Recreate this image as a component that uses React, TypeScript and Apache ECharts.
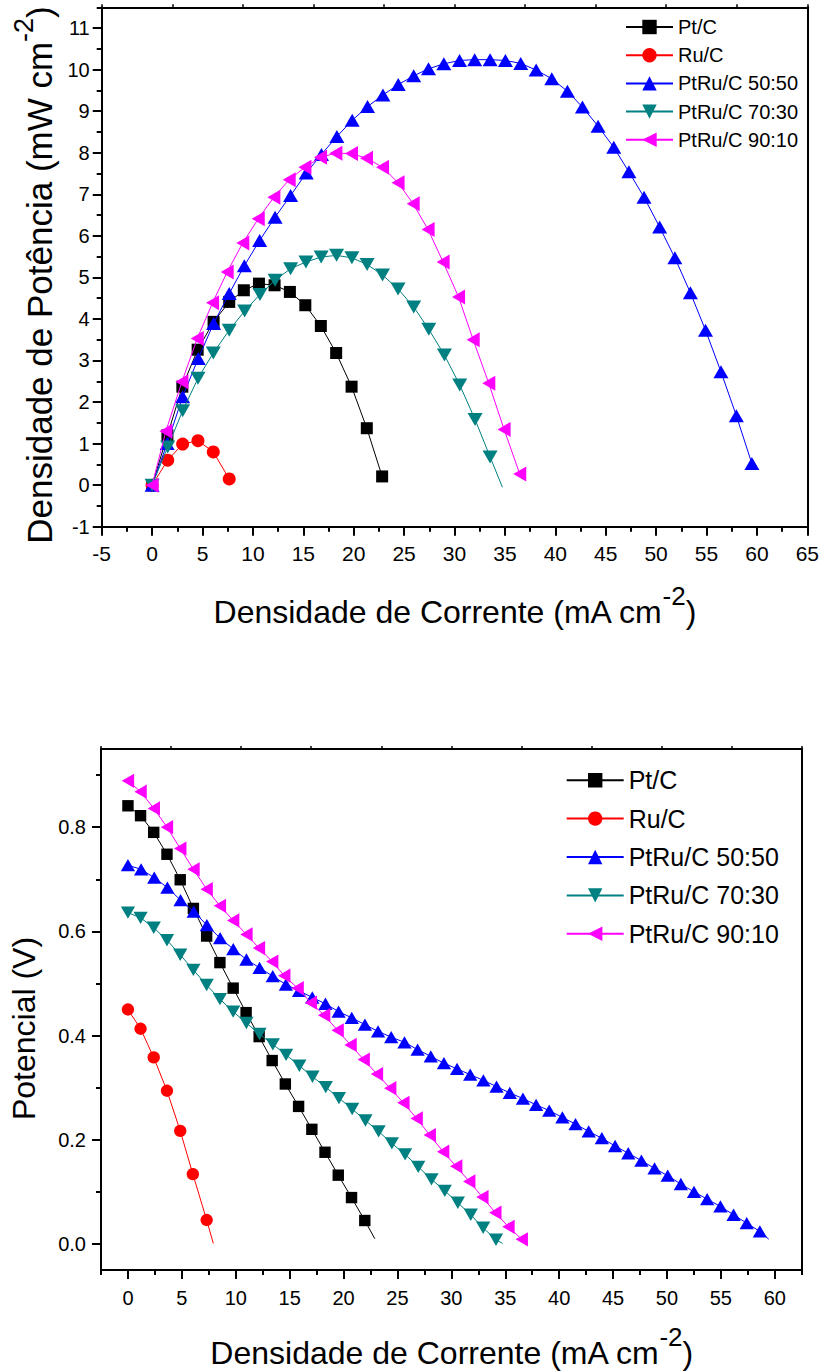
import React, { useEffect, useRef } from 'react';
import * as echarts from 'echarts';

const FONT = 'Arial, Liberation Sans, Helvetica, sans-serif';

const seriesNames = ['Pt/C', 'Ru/C', 'PtRu/C 50:50', 'PtRu/C 70:30', 'PtRu/C 90:10'];
const seriesColors = ['#000000', '#FF0000', '#0000FF', '#008080', '#FF00FF'];

// ---------- Top chart: power density vs current density ----------
const ptcPowJ = [0, 1.52, 3.0, 4.52, 6.1, 7.65, 9.1, 10.6, 12.15, 13.67, 15.2, 16.74, 18.26, 19.79, 21.3, 22.82];
const ptcPowP = [0, 1.2, 2.37, 3.26, 3.93, 4.41, 4.69, 4.85, 4.81, 4.65, 4.33, 3.83, 3.18, 2.37, 1.37, 0.21];

const rucPowJ = [0, 1.55, 3.03, 4.55, 6.07, 7.65];
const rucPowP = [0, 0.6, 0.99, 1.07, 0.8, 0.15];

const pr5050PowJ = [0, 1.49, 3.03, 4.58, 6.1, 7.65, 9.15, 10.67, 12.2, 13.74, 15.29, 16.8, 18.33, 19.85, 21.37, 22.9, 24.42, 25.95, 27.42, 28.94, 30.5, 32.0, 33.53, 35.05, 36.57, 38.1, 39.65, 41.2, 42.69, 44.24, 45.8, 47.3, 48.8, 50.35, 51.86, 53.4, 54.9, 56.43, 57.96, 59.5];
const pr5050PowP = [0, 1.0, 2.13, 3.05, 3.89, 4.61, 5.28, 5.89, 6.45, 6.97, 7.51, 7.96, 8.39, 8.78, 9.11, 9.39, 9.64, 9.85, 10.02, 10.14, 10.22, 10.24, 10.24, 10.22, 10.15, 9.99, 9.78, 9.48, 9.1, 8.64, 8.13, 7.54, 6.93, 6.21, 5.47, 4.63, 3.73, 2.73, 1.67, 0.52];

const pr7030PowJ = [0, 1.55, 3.03, 4.55, 6.07, 7.65, 9.18, 10.7, 12.2, 13.74, 15.26, 16.77, 18.3, 19.82, 21.33, 22.86, 24.4, 25.95, 27.45, 29.0, 30.52, 32.04, 33.53];
const pr7030PowP = [0, 0.92, 1.79, 2.57, 3.18, 3.73, 4.19, 4.59, 4.93, 5.21, 5.37, 5.49, 5.53, 5.47, 5.31, 5.06, 4.72, 4.29, 3.75, 3.13, 2.41, 1.58, 0.68];
const pr7030PowTail = [34.75, -0.05];

const pr9010PowJ = [0, 1.37, 2.96, 4.48, 6.0, 7.45, 9.0, 10.53, 12.08, 13.6, 15.16, 16.71, 18.23, 19.78, 21.27, 22.86, 24.4, 25.9, 27.38, 28.87, 30.4, 31.85, 33.4, 34.92, 36.47];
const pr9010PowP = [0, 1.3, 2.49, 3.53, 4.39, 5.13, 5.83, 6.41, 6.93, 7.35, 7.65, 7.89, 7.99, 7.98, 7.87, 7.65, 7.28, 6.77, 6.15, 5.37, 4.53, 3.5, 2.45, 1.34, 0.27];

// ---------- Bottom chart: potential vs current density ----------
const ptcPolJ = [0, 1.17, 2.39, 3.62, 4.85, 6.07, 7.3, 8.53, 9.76, 10.96, 12.17, 13.38, 14.6, 15.83, 17.06, 18.28, 19.51, 20.74, 21.97];
const ptcPolV = [0.841, 0.822, 0.79, 0.748, 0.699, 0.644, 0.591, 0.54, 0.491, 0.444, 0.398, 0.352, 0.307, 0.264, 0.22, 0.176, 0.132, 0.089, 0.045];
const ptcPolTail = [22.9, 0.01];

const rucPolJ = [0, 1.17, 2.39, 3.62, 4.85, 6.02, 7.3];
const rucPolV = [0.45, 0.413, 0.358, 0.294, 0.217, 0.134, 0.046];
const rucPolTail = [7.92, 0.001];

const pr5050PolJ = [0, 1.22, 2.44, 3.66, 4.88, 6.1, 7.32, 8.55, 9.77, 10.99, 12.21, 13.43, 14.65, 15.87, 17.1, 18.32, 19.54, 20.76, 21.98, 23.2, 24.42, 25.65, 26.87, 28.09, 29.31, 30.53, 31.75, 32.97, 34.19, 35.42, 36.64, 37.86, 39.08, 40.3, 41.52, 42.74, 43.96, 45.19, 46.41, 47.63, 48.85, 50.07, 51.29, 52.51, 53.73, 54.96, 56.18, 57.4, 58.62];
const pr5050PolV = [0.727, 0.719, 0.703, 0.684, 0.66, 0.638, 0.612, 0.587, 0.566, 0.546, 0.53, 0.514, 0.498, 0.486, 0.473, 0.461, 0.446, 0.434, 0.421, 0.408, 0.397, 0.387, 0.373, 0.36, 0.347, 0.336, 0.325, 0.314, 0.302, 0.29, 0.279, 0.267, 0.256, 0.243, 0.23, 0.216, 0.203, 0.188, 0.174, 0.16, 0.145, 0.131, 0.115, 0.1, 0.086, 0.072, 0.056, 0.04, 0.024];
const pr5050PolTail = [59.45, 0.009];

const pr7030PolJ = [0, 1.17, 2.39, 3.62, 4.85, 6.07, 7.3, 8.53, 9.76, 10.99, 12.2, 13.44, 14.67, 15.9, 17.12, 18.35, 19.57, 20.8, 22.03, 23.25, 24.48, 25.71, 26.93, 28.16, 29.39, 30.6, 31.8, 32.95, 34.14];
const pr7030PolV = [0.636, 0.626, 0.607, 0.583, 0.555, 0.526, 0.497, 0.47, 0.446, 0.424, 0.403, 0.383, 0.363, 0.342, 0.321, 0.301, 0.28, 0.259, 0.237, 0.216, 0.193, 0.172, 0.148, 0.124, 0.102, 0.079, 0.056, 0.031, 0.008];
const pr7030PolTail = [34.76, 0.001];

const pr9010PolJ = [0, 1.17, 2.4, 3.62, 4.85, 6.08, 7.3, 8.53, 9.76, 10.99, 12.15, 13.38, 14.5, 15.74, 16.97, 18.2, 19.45, 20.65, 21.87, 23.1, 24.33, 25.55, 26.78, 28.0, 29.24, 30.45, 31.66, 32.88, 34.08, 35.3, 36.53];
const pr9010PolV = [0.889, 0.868, 0.836, 0.8, 0.759, 0.719, 0.681, 0.649, 0.621, 0.594, 0.568, 0.542, 0.515, 0.491, 0.463, 0.439, 0.41, 0.382, 0.354, 0.326, 0.299, 0.271, 0.241, 0.209, 0.177, 0.149, 0.12, 0.09, 0.06, 0.033, 0.009];

// ---------- Tick labels ----------
const powXTicks = [-5, 0, 5, 10, 15, 20, 25, 30, 35, 40, 45, 50, 55, 60, 65];
const powYTicks = [-1, 0, 1, 2, 3, 4, 5, 6, 7, 8, 9, 10, 11];
const polXTicks = [0, 5, 10, 15, 20, 25, 30, 35, 40, 45, 50, 55, 60];
const polYTicks = [0, 0.2, 0.4, 0.6, 0.8];
const powTopTicks = [-5, 2, 9, 16, 23, 30, 37, 44, 51, 58, 65];
const polTopTicks = [-2.5, 4, 10.5, 17, 23.5, 30, 36.5, 43, 49.5, 56, 62.5];

const TRI_DOWN = 'path://M0,0L10,0L5,10Z';
const TRI_LEFT = 'path://M0,5L10,0L10,10Z';
const symbols = ['rect', 'circle', 'triangle', TRI_DOWN, TRI_LEFT];
const symbolSizes: any[] = [12, 13, [15, 13], [15, 13], [13, 15]];

function pairs(xs: number[], ys: number[], tail?: number[]) {
  const out: any[] = xs.map((x, i) => [x, ys[i]]);
  if (tail) out.push({ value: tail, symbol: 'none' });
  return out;
}

function minorBetween(ticks: number[], lo: number, hi: number, step: number) {
  const out: number[] = [];
  const n = Math.round((hi - lo) / step);
  for (let i = 0; i <= n; i++) {
    const v = +(lo + i * step).toFixed(4);
    if (!ticks.some((t) => Math.abs(t - v) < 1e-6)) out.push(v);
  }
  return out;
}

const black = '#000000';
const axisLine = { show: true, onZero: false, lineStyle: { color: black, width: 2 } };

function mainAxis(gridIndex: number, position: string, min: number, max: number, ticks: number[], labelMargin: number, labelSize: number, fmt?: (v: number) => string, name?: string, nameGap?: number, nameStyle?: any) {
  return {
    type: 'value', gridIndex, position, min, max,
    axisLine,
    axisTick: { show: true, inside: false, length: 9, customValues: ticks, lineStyle: { color: black, width: 2 } },
    axisLabel: { show: true, customValues: ticks, margin: labelMargin, fontSize: labelSize, color: black, fontFamily: FONT, formatter: fmt },
    splitLine: { show: false },
    minorTick: { show: false },
    name, nameLocation: 'middle', nameGap, nameTextStyle: nameStyle,
  };
}
function minorAxis(gridIndex: number, position: string, min: number, max: number, values: number[]) {
  return {
    type: 'value', gridIndex, position, min, max,
    axisLine: { show: false, onZero: false },
    axisTick: { show: true, inside: false, length: 5, customValues: values, lineStyle: { color: black, width: 2 } },
    axisLabel: { show: false },
    splitLine: { show: false },
  };
}
function frameAxis(gridIndex: number, position: string, min: number, max: number, values?: number[]) {
  return {
    type: 'value', gridIndex, position, min, max,
    axisLine,
    axisTick: values ? { show: true, inside: false, length: 3, customValues: values, lineStyle: { color: black, width: 1.5 } } : { show: false },
    axisLabel: { show: false },
    splitLine: { show: false },
  };
}

function titleStyle(mainSize: number, supSize: number, pad?: number[]) {
  return {
    padding: pad,
    rich: {
      m: { fontSize: mainSize, fontFamily: FONT, color: black, verticalAlign: 'bottom' },
      s: { fontSize: supSize, fontFamily: FONT, color: black, verticalAlign: 'top', padding: [0, 0, 19, 0] },
    },
  };
}

function buildOption() {
  const powSeries = [
    pairs(ptcPowJ, ptcPowP),
    pairs(rucPowJ, rucPowP),
    pairs(pr5050PowJ, pr5050PowP),
    pairs(pr7030PowJ, pr7030PowP, pr7030PowTail),
    pairs(pr9010PowJ, pr9010PowP),
  ];
  const polSeries = [
    pairs(ptcPolJ, ptcPolV, ptcPolTail),
    pairs(rucPolJ, rucPolV, rucPolTail),
    pairs(pr5050PolJ, pr5050PolV, pr5050PolTail),
    pairs(pr7030PolJ, pr7030PolV, pr7030PolTail),
    pairs(pr9010PolJ, pr9010PolV),
  ];
  const mk = (data: any[], i: number, xi: number, yi: number, sizeScale: number) => ({
    type: 'line', name: seriesNames[i], xAxisIndex: xi, yAxisIndex: yi, data,
    symbol: symbols[i],
    symbolSize: Array.isArray(symbolSizes[i]) ? symbolSizes[i].map((v: number) => v * sizeScale) : symbolSizes[i] * sizeScale,
    showSymbol: true, showAllSymbol: true,
    lineStyle: { color: seriesColors[i], width: 1 },
    itemStyle: { color: seriesColors[i] },
    emphasis: { disabled: true },
    z: 2 + i,
  });

  const legendBase = {
    orient: 'vertical', padding: 0, selectedMode: false, data: seriesNames,
  };

  return {
    animation: false,
    backgroundColor: '#ffffff',
    grid: [
      { left: 101.7, top: 7.3, width: 706, height: 519.4, containLabel: false },
      { left: 95, top: 749, width: 706.7, height: 521, containLabel: false },
    ],
    legend: [
      { ...legendBase, left: 625, top: 17, itemWidth: 47, itemHeight: 18, itemGap: 8.2,
        textStyle: { fontSize: 20, lineHeight: 18, color: black, fontFamily: FONT } },
      { ...legendBase, left: 565.7, top: 767.7, itemWidth: 57, itemHeight: 18, itemGap: 13.4,
        textStyle: { fontSize: 25, lineHeight: 18, color: black, fontFamily: FONT } },
    ],
    xAxis: [
      mainAxis(0, 'bottom', -5, 65, powXTicks, 16.5, 21, undefined,
        '{m|Densidade de Corrente (mA cm}{s|-2}{m|)}', 56, titleStyle(32, 26)),
      minorAxis(0, 'bottom', -5, 65, minorBetween(powXTicks, -5, 65, 2.5)),
      frameAxis(0, 'top', -5, 65, powTopTicks),
      mainAxis(1, 'bottom', -2.5, 62.5, polXTicks, 17.5, 20, undefined,
        '{m|Densidade de Corrente (mA cm}{s|-2}{m|)}', 54, titleStyle(32, 26)),
      minorAxis(1, 'bottom', -2.5, 62.5, minorBetween(polXTicks, -2.5, 62.5, 2.5)),
      frameAxis(1, 'top', -2.5, 62.5, polTopTicks),
    ],
    yAxis: [
      mainAxis(0, 'left', -1, 11.5, powYTicks, 12, 20, undefined,
        '{m|Densidade de Potência (mW cm}{s|-2}{m|)}', 45, titleStyle(35, 27, [0, 16, 0, 0])),
      minorAxis(0, 'left', -1, 11.5, minorBetween(powYTicks, -1, 11.5, 0.5)),
      frameAxis(0, 'right', -1, 11.5),
      mainAxis(1, 'left', -0.05, 0.95, polYTicks, 15, 20, (v: number) => v.toFixed(1),
        'Potencial (V)', 61, { fontSize: 32, fontFamily: FONT, color: black, padding: [0, 38, 0, 0] }),
      minorAxis(1, 'left', -0.05, 0.95, minorBetween(polYTicks, -0.1, 1.0, 0.1).filter((v) => v >= -0.05 && v <= 0.95)),
      frameAxis(1, 'right', -0.05, 0.95),
    ],
    series: [
      ...powSeries.map((d, i) => mk(d, i, 0, 0, 1)),
      ...polSeries.map((d, i) => mk(d, i, 3, 3, 0.95)),
    ],
  };
}

export default function App() {
  const ref = useRef<HTMLDivElement>(null);
  useEffect(() => {
    if (!ref.current) return;
    const chart = echarts.init(ref.current, undefined, { renderer: 'svg', width: 822, height: 1371 });
    chart.setOption(buildOption() as any);
    return () => chart.dispose();
  }, []);
  return (
    <div
      ref={ref}
      style={{ position: 'absolute', left: 0, top: 0, width: 822, height: 1371, background: '#fff' }}
    />
  );
}
